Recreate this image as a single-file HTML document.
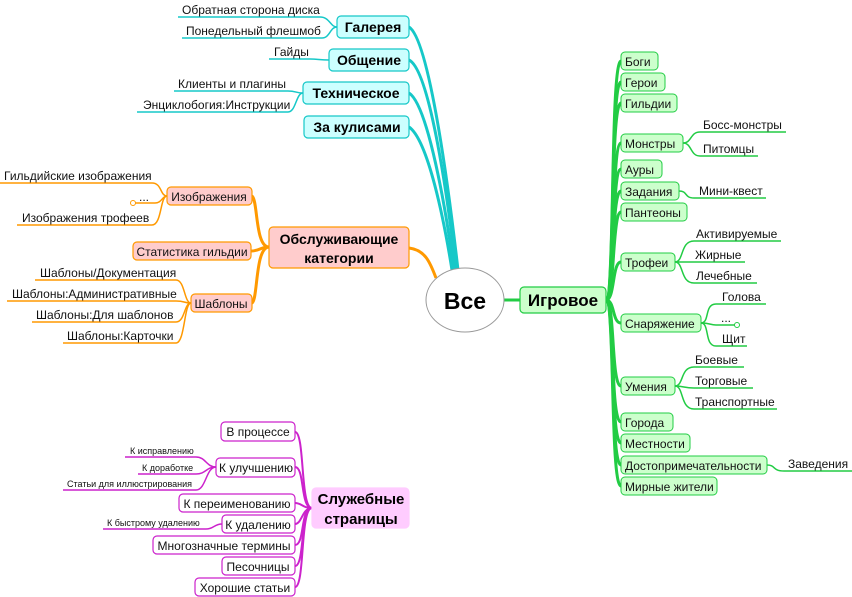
<!DOCTYPE html>
<html><head><meta charset="utf-8"><style>
html,body{margin:0;padding:0;background:#fff;}
svg{display:block;font-family:"Liberation Sans","DejaVu Sans",sans-serif;}
.t{font-size:12px;fill:#111;}
.s{font-size:9px;fill:#111;}
.b{font-weight:bold;fill:#000;}
</style></head><body>
<svg width="852" height="597" viewBox="0 0 852 597" xmlns="http://www.w3.org/2000/svg">
<!-- cyan connectors -->
<g fill="none" stroke="#16c8c8" stroke-width="3">
<path d="M409,27 C430,40 450,200 458,270"/>
<path d="M409,60 C430,70 448,200 456,270"/>
<path d="M409,93 C428,105 446,210 454,270"/>
<path d="M409,127 C428,140 444,220 452,270"/>
</g>
<g fill="none" stroke="#16c8c8" stroke-width="1.5">
<path d="M178,17 H320 C330,17 330,27 337,27"/>
<path d="M182,38 H322 C330,38 330,27 337,27"/>
<path d="M269,59 H310 C318,59 320,60 329,60"/>
<path d="M174,91 H288 C296,91 296,93 303,93"/>
<path d="M137,112 H288 C296,112 296,93 303,93"/>
</g>
<!-- orange -->
<g fill="none" stroke="#ff9900" stroke-width="3">
<path d="M409,248 C425,250 430,262 436,278"/>
<path d="M269,247 C255,247 258,200 252,196"/>
<path d="M269,247 C260,247 260,251 251,251"/>
<path d="M269,247 C255,247 258,300 252,303"/>
</g>
<g fill="none" stroke="#ff9900" stroke-width="1.5">
<path d="M0,183 H152 C162,183 160,196 167,196"/>
<path d="M133,203 H155 C162,203 162,196 167,196"/>
<path d="M17,225 H152 C162,225 160,196 167,196"/>
<path d="M35,280 H176 C185,280 184,303 191,303"/>
<path d="M7,301 H176 C185,301 184,303 191,303"/>
<path d="M32,322 H176 C185,322 184,303 191,303"/>
<path d="M63,343 H176 C185,343 184,303 191,303"/>
</g>
<circle cx="133" cy="203" r="2.5" fill="#fff" stroke="#ff9900"/>
<!-- green -->
<g fill="none" stroke="#22cc44" stroke-width="3">
<path d="M504,300 H520"/>
<path d="M606,300 C615,300 610,62 621,61"/>
<path d="M606,300 C615,300 610,82 621,82"/>
<path d="M606,300 C615,300 610,103 621,103"/>
<path d="M606,300 C615,300 611,143 621,143"/>
<path d="M606,300 C615,300 611,169 621,169"/>
<path d="M606,300 C615,300 611,191 621,191"/>
<path d="M606,300 C615,300 612,212 621,212"/>
<path d="M606,300 C615,300 612,262 621,262"/>
<path d="M606,300 C615,300 612,323 621,323"/>
<path d="M606,300 C615,300 611,386 621,386"/>
<path d="M606,300 C615,300 610,422 621,422"/>
<path d="M606,300 C615,300 610,443 621,443"/>
<path d="M606,300 C615,300 610,465 621,465"/>
<path d="M606,300 C615,300 610,486 621,486"/>
</g>
<g fill="none" stroke="#22cc44" stroke-width="1.5">
<path d="M683,143 C692,143 690,132 700,132 H786"/>
<path d="M683,143 C692,143 690,156 700,156 H758"/>
<path d="M679,191 C688,191 684,198 694,198 H766"/>
<path d="M675,262 C684,262 680,241 694,241 H781"/>
<path d="M675,262 C684,262 684,262 694,262 H745"/>
<path d="M675,262 C684,262 680,283 694,283 H757"/>
<path d="M701,323 C710,323 704,304 716,304 H766"/>
<path d="M701,323 C710,323 710,325 716,325 H737"/>
<path d="M701,323 C710,323 704,346 716,346 H747"/>
<path d="M675,386 C684,386 680,367 694,367 H744"/>
<path d="M675,386 C684,386 684,388 694,388 H753"/>
<path d="M675,386 C684,386 680,409 694,409 H777"/>
<path d="M767,465 C776,465 772,471 784,471 H852"/>
</g>
<circle cx="737" cy="325" r="2.5" fill="#fff" stroke="#22cc44"/>
<!-- magenta -->
<g fill="none" stroke="#cc22cc" stroke-width="2">
<path d="M312,508 C300,508 305,432 295,432"/>
<path d="M312,508 C300,508 305,467 295,467"/>
<path d="M312,508 C302,508 302,503 295,503"/>
<path d="M312,508 C302,508 302,524 295,524"/>
<path d="M312,508 C300,508 305,545 295,545"/>
<path d="M312,508 C300,508 305,566 295,566"/>
<path d="M312,508 C300,508 305,587 295,587"/>
</g>
<g fill="none" stroke="#cc22cc" stroke-width="1.5">
<path d="M125,457 H196 C206,457 206,467 216,467"/>
<path d="M138,474 H196 C206,474 206,467 216,467"/>
<path d="M63,490 H196 C206,490 206,467 216,467"/>
<path d="M103,529 H206 C214,529 214,524 222,524"/>
</g>
<!-- central -->
<ellipse cx="465" cy="300" rx="39" ry="32" fill="#fff" stroke="#999"/>
<text x="465" y="309" text-anchor="middle" class="b" style="font-size:23px">Все</text>
<!-- boxes -->
<g stroke-width="1.2">
<rect x="520" y="287" width="86" height="26" rx="4" fill="#ccffcc" stroke="#22cc44"/>
<rect x="337" y="16" width="72" height="22" rx="4" fill="#ccffff" stroke="#16c8c8"/>
<rect x="329" y="49" width="80" height="22" rx="4" fill="#ccffff" stroke="#16c8c8"/>
<rect x="303" y="82" width="106" height="22" rx="4" fill="#ccffff" stroke="#16c8c8"/>
<rect x="304" y="116" width="105" height="22" rx="4" fill="#ccffff" stroke="#16c8c8"/>
<rect x="269" y="227" width="140" height="41" rx="4" fill="#ffcccc" stroke="#ff9900"/>
<rect x="167" y="187" width="85" height="18" rx="4" fill="#ffcccc" stroke="#ff9900"/>
<rect x="133" y="242" width="118" height="18" rx="4" fill="#ffcccc" stroke="#ff9900"/>
<rect x="191" y="294" width="61" height="18" rx="4" fill="#ffcccc" stroke="#ff9900"/>
<rect x="312" y="488" width="97" height="40" rx="4" fill="#ffccff" stroke="#ffccff"/>
</g>
<g fill="#ccffcc" stroke="#22cc44" stroke-width="1">
<rect x="621" y="52" width="37" height="18" rx="4"/>
<rect x="621" y="73" width="44" height="18" rx="4"/>
<rect x="621" y="94" width="56" height="18" rx="4"/>
<rect x="621" y="134" width="62" height="18" rx="4"/>
<rect x="621" y="160" width="41" height="18" rx="4"/>
<rect x="621" y="182" width="58" height="18" rx="4"/>
<rect x="621" y="203" width="66" height="18" rx="4"/>
<rect x="621" y="253" width="54" height="18" rx="4"/>
<rect x="621" y="314" width="80" height="18" rx="4"/>
<rect x="621" y="377" width="54" height="18" rx="4"/>
<rect x="621" y="413" width="52" height="18" rx="4"/>
<rect x="621" y="434" width="69" height="18" rx="4"/>
<rect x="621" y="456" width="146" height="18" rx="4"/>
<rect x="621" y="477" width="96" height="18" rx="4"/>
</g>
<g fill="#fff" stroke="#cc22cc" stroke-width="1.2">
<rect x="221" y="422" width="74" height="19" rx="4"/>
<rect x="216" y="458" width="79" height="19" rx="4"/>
<rect x="179" y="494" width="116" height="18" rx="4"/>
<rect x="222" y="515" width="73" height="18" rx="4"/>
<rect x="153" y="536" width="142" height="18" rx="4"/>
<rect x="222" y="557" width="73" height="18" rx="4"/>
<rect x="195" y="578" width="100" height="18" rx="4"/>
</g>
<!-- bold labels -->
<g class="b" style="font-size:14px">
<text x="563" y="306" text-anchor="middle" style="font-size:17px">Игровое</text>
<text x="373" y="32" text-anchor="middle">Галерея</text>
<text x="369" y="65" text-anchor="middle">Общение</text>
<text x="356" y="98" text-anchor="middle">Техническое</text>
<text x="357" y="132" text-anchor="middle">За кулисами</text>
<text x="339" y="244" text-anchor="middle">Обслуживающие</text>
<text x="339" y="263" text-anchor="middle">категории</text>
<text x="361" y="504" text-anchor="middle" style="font-size:15px">Служебные</text>
<text x="361" y="524" text-anchor="middle" style="font-size:15px">страницы</text>
</g>
<!-- normal labels -->
<g class="t">
<text x="182" y="14">Обратная сторона диска</text>
<text x="186" y="35">Понедельный флешмоб</text>
<text x="274" y="56">Гайды</text>
<text x="178" y="88">Клиенты и плагины</text>
<text x="143" y="109">Энциклобогия:Инструкции</text>
<text x="4" y="180">Гильдийские изображения</text>
<text x="139" y="201">...</text>
<text x="22" y="222">Изображения трофеев</text>
<text x="40" y="277">Шаблоны/Документация</text>
<text x="12" y="298">Шаблоны:Административные</text>
<text x="36" y="319">Шаблоны:Для шаблонов</text>
<text x="67" y="340">Шаблоны:Карточки</text>
<text x="209" y="201" text-anchor="middle">Изображения</text>
<text x="192" y="256" text-anchor="middle">Статистика гильдии</text>
<text x="221" y="308" text-anchor="middle">Шаблоны</text>
<text x="625" y="66">Боги</text>
<text x="625" y="87">Герои</text>
<text x="625" y="108">Гильдии</text>
<text x="625" y="148">Монстры</text>
<text x="625" y="174">Ауры</text>
<text x="625" y="196">Задания</text>
<text x="625" y="217">Пантеоны</text>
<text x="625" y="267">Трофеи</text>
<text x="625" y="328">Снаряжение</text>
<text x="625" y="391">Умения</text>
<text x="625" y="427">Города</text>
<text x="625" y="448">Местности</text>
<text x="625" y="470">Достопримечательности</text>
<text x="625" y="491">Мирные жители</text>
<text x="703" y="129">Босс-монстры</text>
<text x="703" y="153">Питомцы</text>
<text x="699" y="195">Мини-квест</text>
<text x="696" y="238">Активируемые</text>
<text x="695" y="259">Жирные</text>
<text x="696" y="280">Лечебные</text>
<text x="722" y="301">Голова</text>
<text x="721" y="322">...</text>
<text x="722" y="343">Щит</text>
<text x="695" y="364">Боевые</text>
<text x="695" y="385">Торговые</text>
<text x="695" y="406">Транспортные</text>
<text x="788" y="468">Заведения</text>
<text x="258" y="436" text-anchor="middle">В процессе</text>
<text x="256" y="472" text-anchor="middle">К улучшению</text>
<text x="237" y="508" text-anchor="middle">К переименованию</text>
<text x="258" y="529" text-anchor="middle">К удалению</text>
<text x="224" y="550" text-anchor="middle">Многозначные термины</text>
<text x="258" y="571" text-anchor="middle">Песочницы</text>
<text x="245" y="592" text-anchor="middle">Хорошие статьи</text>
</g>
<g class="s">
<text x="130" y="454">К исправлению</text>
<text x="142" y="471">К доработке</text>
<text x="67" y="487">Статьи для иллюстрирования</text>
<text x="107" y="526">К быстрому удалению</text>
</g>
</svg>
</body></html>
